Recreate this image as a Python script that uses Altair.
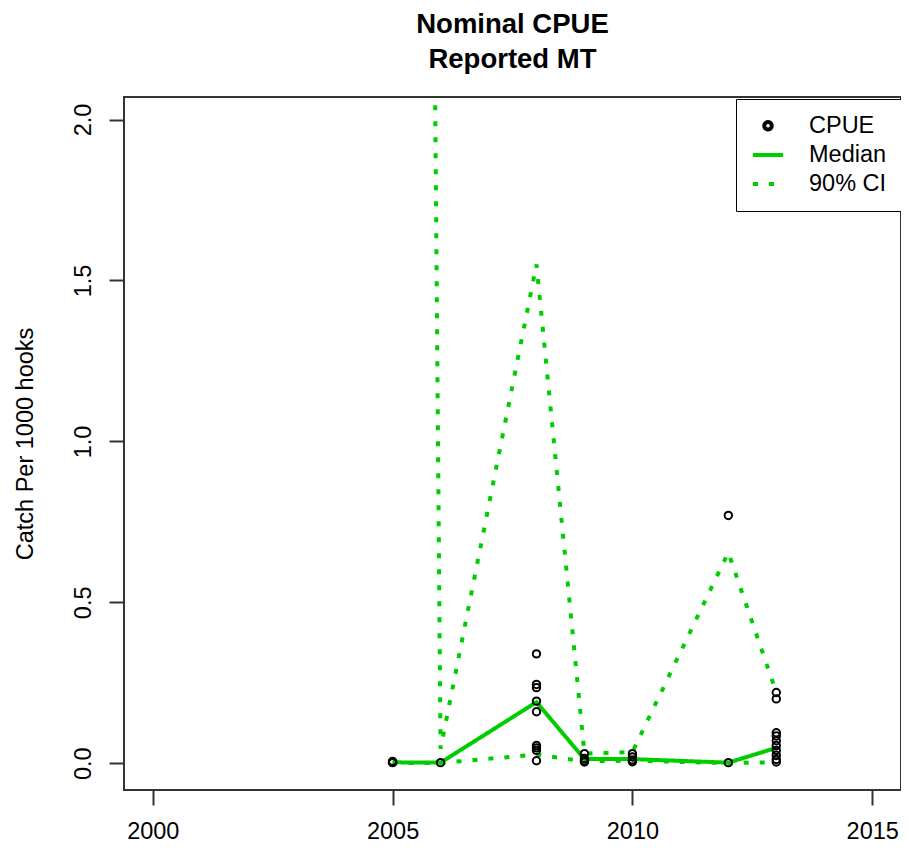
import altair as alt
import pandas as pd

# ---- data ----
pt_year = [2005, 2005, 2005, 2005,
           2006,
           2008, 2008, 2008, 2008, 2008, 2008, 2008, 2008, 2008,
           2009, 2009, 2009, 2009,
           2010, 2010, 2010, 2010,
           2012, 2012,
           2013, 2013, 2013, 2013, 2013, 2013, 2013, 2013, 2013, 2013]
pt_cpue = [0.003, 0.006, 0.002, 0.004,
           0.002,
           0.340, 0.245, 0.235, 0.193, 0.160, 0.055, 0.048, 0.040, 0.008,
           0.030, 0.015, 0.008, 0.004,
           0.030, 0.020, 0.010, 0.005,
           0.770, 0.002,
           0.220, 0.200, 0.095, 0.085, 0.070, 0.055, 0.040, 0.025, 0.012, 0.004]

yr = [2005, 2006, 2008, 2009, 2010, 2012, 2013]
median = [0.003, 0.002, 0.190, 0.013, 0.013, 0.002, 0.048]
ci_upper = [18.0, 0.045, 1.55, 0.030, 0.035, 0.655, 0.220]
ci_lower = [0.001, 0.001, 0.027, 0.006, 0.008, 0.0005, 0.003]

series = ["CPUE", "Median", "90% CI"]
GREEN = "#00CD00"
FONT = "Liberation Sans"

pts = pd.DataFrame({"year": pt_year, "value": pt_cpue, "series": "CPUE"})
med = pd.DataFrame({"year": yr, "value": median, "series": "Median", "grp": "m"})
ci = pd.concat([
    pd.DataFrame({"year": yr, "value": ci_upper, "series": "90% CI", "grp": "u"}),
    pd.DataFrame({"year": yr, "value": ci_lower, "series": "90% CI", "grp": "l"}),
])
lines = pd.concat([med, ci])

xs = alt.X("year:Q",
           scale=alt.Scale(domain=[1999.4, 2015.6], nice=False, zero=False),
           axis=alt.Axis(values=[2000, 2005, 2010, 2015], format="d", title=None,
                         grid=False, domain=False, tickSize=15, tickWidth=2,
                         tickColor="#333333", labelFontSize=23.5, labelFont=FONT,
                         labelColor="black", labelPadding=14, labelFlush=False,
                         labelOverlap=False))
ys = alt.Y("value:Q",
           scale=alt.Scale(domain=[-0.083, 2.07], nice=False, zero=False),
           axis=alt.Axis(values=[0, 0.5, 1.0, 1.5, 2.0], format=".1f",
                         title="Catch Per 1000 hooks", titleFont=FONT,
                         titleFontSize=23.5, titleFontWeight="normal",
                         titleColor="black", titlePadding=34,
                         grid=False, domain=False, tickSize=15, tickWidth=2,
                         tickColor="#333333", labelFontSize=23.5, labelFont=FONT,
                         labelColor="black", labelAngle=-90, labelAlign="center",
                         labelBaseline="bottom", labelPadding=14,
                         labelFlush=False, labelOverlap=False))

color = alt.Color("series:N",
                  scale=alt.Scale(domain=series, range=["black", GREEN, GREEN]),
                  legend=alt.Legend(title=None, orient="none", legendX=612, legendY=2,
                                    labelFont=FONT, labelFontSize=23.5,
                                    labelColor="black", labelOffset=24,
                                    strokeColor="black", fillColor="white",
                                    padding=15, rowPadding=0,
                                    symbolStrokeWidth=4))
shape = alt.Shape("series:N",
                  scale=alt.Scale(domain=series, range=["circle", "stroke", "stroke"]),
                  legend=alt.Legend(title=None))
dash = alt.StrokeDash("series:N",
                      scale=alt.Scale(domain=series, range=[[1, 0], [1, 0], [5, 11]]),
                      legend=alt.Legend(title=None))
size = alt.Size("series:N",
                scale=alt.Scale(type="ordinal", domain=series, range=[55, 900, 900]),
                legend=alt.Legend(title=None))

line_layer = alt.Chart(lines).mark_line(strokeWidth=4, clip=True).encode(
    x=xs, y=ys, color=color, strokeDash=dash, detail="grp:N",
    order="year:Q"
)

point_layer = alt.Chart(pts).mark_point(filled=False, strokeWidth=2, clip=True,
                                         opacity=1).encode(
    x=xs, y=ys, color=color, shape=shape, size=size
)

chart = alt.layer(line_layer, point_layer).properties(
    width=777, height=693,
    title=alt.TitleParams(["Nominal CPUE", "Reported MT"], font=FONT, fontSize=27.5,
                          fontWeight="bold", color="black", anchor="middle",
                          lineHeight=35, offset=24),
    autosize=alt.AutoSizeParams(type="none"),
    padding={"left": 116, "top": 89, "right": 0, "bottom": 52},
).configure(
    background="white"
).configure_view(
    stroke="#333333", strokeWidth=2
)

chart.save("out.html", embed_options={"renderer": "svg", "actions": False})
